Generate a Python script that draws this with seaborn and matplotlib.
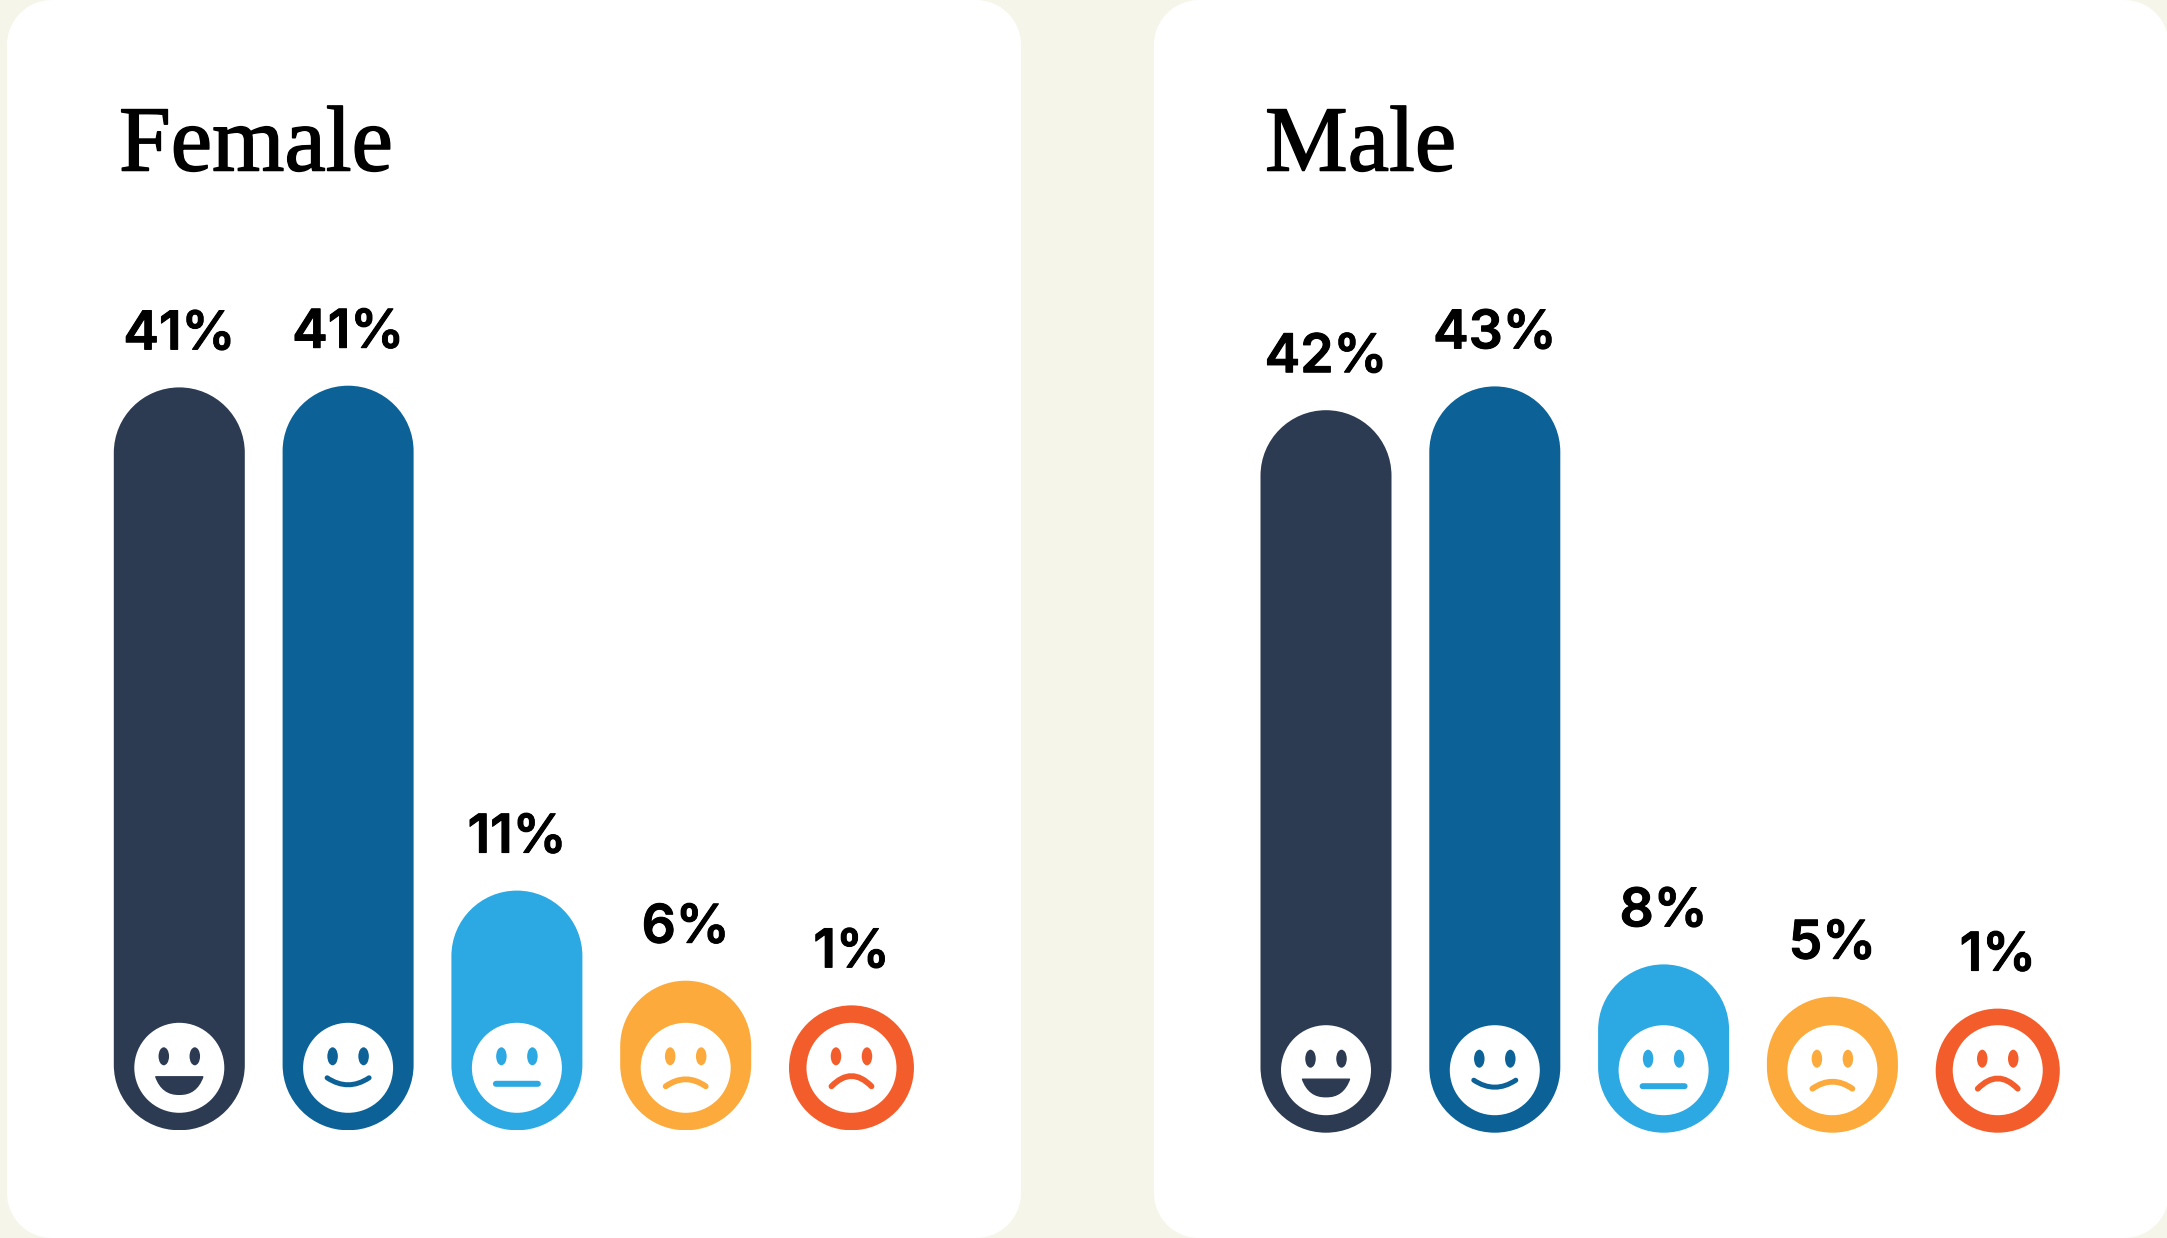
import matplotlib
matplotlib.use('Agg')
import matplotlib.pyplot as plt
import matplotlib.patheffects as pe
from matplotlib.patches import Ellipse, PathPatch
from matplotlib.path import Path
import pandas as pd
import seaborn as sns

W, H = 2167, 1238

moods = ['Very happy', 'Happy', 'Neutral', 'Unhappy', 'Very unhappy']
mood_colors = ['#2C3A52', '#0C6197', '#2CA8E2', '#FBAA3B', '#F35D2B']

# printed labels
female_labels = [41, 41, 11, 6, 1]
male_labels = [42, 43, 8, 5, 1]
# drawn pill lengths (pills have a floor so they never
# get shorter than a circle, hence not the same as the labels)
female_lengths = [43.7, 43.8, 14.1, 8.8, 7.35]
male_lengths = [42.5, 43.9, 9.9, 8.0, 7.3]

BAR_PX = 131
STEP_PX = 168.8
UNIT_PX = 17.0
FACE_R = 45
KAPPA = 0.5523


def round_box(x0, y0, w, h, rx, ry, **kwargs):
    '''Box with true circular corners, rx and ry are the radius in each axis unit.'''
    x1, y1 = x0 + w, y0 + h
    kx, ky = rx * (1 - KAPPA), ry * (1 - KAPPA)
    verts = [(x0 + rx, y0), (x1 - rx, y0),
             (x1 - kx, y0), (x1, y0 + ky), (x1, y0 + ry), (x1, y1 - ry),
             (x1, y1 - ky), (x1 - kx, y1), (x1 - rx, y1), (x0 + rx, y1),
             (x0 + kx, y1), (x0, y1 - ky), (x0, y1 - ry), (x0, y0 + ry),
             (x0, y0 + ky), (x0 + kx, y0), (x0 + rx, y0), (x0 + rx, y0)]
    c3 = [Path.CURVE4] * 3
    codes = [Path.MOVETO, Path.LINETO] + c3 + [Path.LINETO] + c3 + [Path.LINETO] + c3 + [Path.LINETO] + c3 + [Path.CLOSEPOLY]
    return PathPatch(Path(verts, codes), **kwargs)


def draw_face(ax, x, y, kind, color):
    '''Smiley in pixel offsets from its centre, converted to data units.'''
    def pts(*xy):
        return [(x + dx / STEP_PX, y - dy / UNIT_PX) for dx, dy in xy]

    ax.add_patch(Ellipse((x, y), 2 * FACE_R / STEP_PX, 2 * FACE_R / UNIT_PX,
                         fc='white', ec='none', zorder=3))
    for side in (-15.5, 15.5):
        ax.add_patch(Ellipse(pts((side, -11.5))[0], 10.5 / STEP_PX, 18 / UNIT_PX,
                             fc=color, ec='none', zorder=4))
    if kind == 0:
        verts = pts((-23.5, 9), (23.5, 9), (17, 27), (0, 26.5), (-17, 27), (-23.5, 9), (-23.5, 9))
        codes = [Path.MOVETO, Path.LINETO, Path.CURVE3, Path.CURVE3, Path.CURVE3, Path.CURVE3, Path.CLOSEPOLY]
        ax.add_patch(PathPatch(Path(verts, codes), fc=color, ec=color, lw=1, joinstyle='round', zorder=4))
        return
    # one stroked mouth per mood: half width, end height, control height, stroke
    mouth = {1: (21, 10, 24, 5), 2: (21, 16, 16, 6), 3: (20, 18.5, 4.5, 5.8), 4: (20, 18.5, -2, 5.8)}[kind]
    half, end, ctrl, lw = mouth
    verts = pts((-half, end), (0, ctrl), (half, end))
    ax.add_patch(PathPatch(Path(verts, [Path.MOVETO, Path.CURVE3, Path.CURVE3]), fc='none',
                           ec=color, lw=lw * 0.72, capstyle='round', zorder=4))


def draw_panel(ax, labels, lengths, title, title_x):
    df = pd.DataFrame({'mood': moods, 'length': lengths})
    sns.barplot(data=df, x='mood', y='length', hue='mood', palette=mood_colors,
                order=moods, hue_order=moods, legend=False, ax=ax, width=BAR_PX / STEP_PX)
    ax.set_xlim(-0.5, 4.5)
    ax.set_ylim(0, (ax.bbox.height / UNIT_PX))
    ax.axis('off')

    aspect = STEP_PX / UNIT_PX
    bars = sorted(ax.patches, key=lambda b: b.get_x())
    for bar, label, color, kind in zip(bars, labels, mood_colors, range(5)):
        left = bar.get_x()
        width = bar.get_width()
        length = bar.get_height()
        # pill, narrowed to a circle when the length is under the full width
        width = min(width, length / aspect)
        bar.set_visible(False)
        center = left + width / 2
        ax.add_patch(round_box(left, 0, width, length, width / 2, width / 2 * aspect,
                               fc=color, ec='none', zorder=2))
        draw_face(ax, center, 62.5 / UNIT_PX, kind, color)
        ax.annotate(f'{label}%', (center, length), xytext=(0, 38 * 0.72), textcoords='offset points',
                    ha='center', va='baseline', fontsize=38.5, fontweight=600,
                    family=['Inter', 'DejaVu Sans'], color='black',
                    path_effects=[pe.withStroke(linewidth=0.7, foreground='black')])
    ax.figure.text(title_x / W, 1 - 170.5 / H, title, fontsize=67, va='baseline', ha='left',
                   family=['Liberation Serif'], color='black',
                   path_effects=[pe.withStroke(linewidth=1.1, foreground='black')])


sns.set_theme(style='white')
fig = plt.figure(figsize=(W / 100, H / 100), dpi=100, facecolor='#F5F5E9')

back = fig.add_axes([0, 0, 1, 1])
back.set_xlim(0, W)
back.set_ylim(H, 0)
back.axis('off')
for x0, x1 in [(7, 1021), (1154, 2169)]:
    back.add_patch(round_box(x0, 0, x1 - x0, H, 45, 45, fc='white', ec='none'))

# axes placed so that slot 0 starts half a step left of the first pill
for first_px, bottom_px, labels, lengths, title, title_x in [
    (179.3, 1130.3, female_labels, female_lengths, 'Female', 119),
    (1326.0, 1132.7, male_labels, male_lengths, 'Male', 1265),
]:
    left_px = first_px - STEP_PX / 2
    ax = fig.add_axes([left_px / W, 1 - bottom_px / H, 5 * STEP_PX / W, 900 / H])
    ax.patch.set_alpha(0)
    draw_panel(ax, labels, lengths, title, title_x)

fig.savefig('out.png', dpi=100, facecolor=fig.get_facecolor())
